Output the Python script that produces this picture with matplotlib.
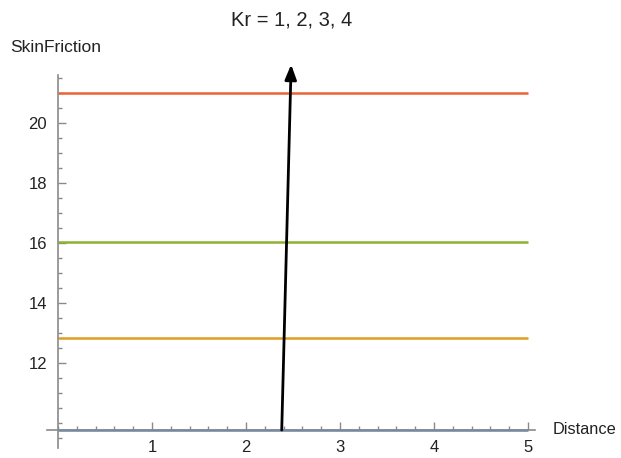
import matplotlib

matplotlib.use("Agg")
import matplotlib.pyplot as plt
import numpy as np
from matplotlib.ticker import MultipleLocator

plt.rcParams["font.family"] = ["Liberation Sans", "DejaVu Sans"]

# Skin friction vs distance for Kr = 1, 2, 3, 4 (constant profiles)
distance = [0.0, 5.0]
kr_values = [1, 2, 3, 4]
skin_friction = [9.77, 12.85, 16.03, 21.0]
line_colors = ["#5E81B5", "#E19C24", "#8FB032", "#EB6235"]

x_ticks = [1, 2, 3, 4, 5]
y_ticks = [12, 14, 16, 18, 20]

arrow_start = (2.38, 9.77)
arrow_end = (2.48, 21.95)

fig = plt.figure(figsize=(6.21, 4.58), dpi=100)
# axes box in pixels: left 47, right 535, top 75, bottom 448
ax = fig.add_axes([47 / 621, 1 - 448 / 458, (535 - 47) / 621, (448 - 75) / 458])
ax.set_xlim(-0.117, 5.074)
ax.set_ylim(9.17, 21.6)

for kr, sf, c in zip(kr_values, skin_friction, line_colors):
    ax.plot(distance, [sf, sf], color=c, linewidth=1.8, solid_capstyle="butt", zorder=2)

axis_col = "#8a8a8a"
for side in ("top", "right"):
    ax.spines[side].set_visible(False)
ax.spines["left"].set_position(("data", 0))
ax.spines["bottom"].set_position(("data", skin_friction[0]))
ax.spines["left"].set_color(axis_col)
ax.spines["bottom"].set_color(axis_col)
ax.spines["left"].set_linewidth(1.2)
ax.spines["bottom"].set_linewidth(1.2)

ax.set_xticks(x_ticks)
ax.set_yticks(y_ticks)
ax.xaxis.set_minor_locator(MultipleLocator(0.2))
ax.yaxis.set_minor_locator(MultipleLocator(0.5))
ax.tick_params(axis="both", which="major", direction="in", length=5.5, width=1, color=axis_col,
               labelsize=12, labelcolor="#222222")
ax.tick_params(axis="both", which="minor", direction="in", length=3, width=1, color=axis_col)
ax.tick_params(axis="x", pad=7)
ax.tick_params(axis="y", pad=8)

ax.annotate("", xy=arrow_end, xytext=arrow_start, annotation_clip=False,
            arrowprops=dict(arrowstyle="-|>,head_length=0.9,head_width=0.35", color="black",
                            linewidth=2, shrinkA=0, shrinkB=0), zorder=5)

fig.text(292 / 621, 1 - 20 / 458, "Kr = 1, 2, 3, 4", ha="center", va="center", fontsize=14.5, color="#222222")
fig.text(10 / 621, 1 - 48 / 458, "SkinFriction", ha="left", va="center", fontsize=12.5, color="#222222")
fig.text(553 / 621, 1 - 430 / 458, "Distance", ha="left", va="center", fontsize=11.8, color="#222222")

fig.savefig("out.png", dpi=100)
plt.close(fig)
